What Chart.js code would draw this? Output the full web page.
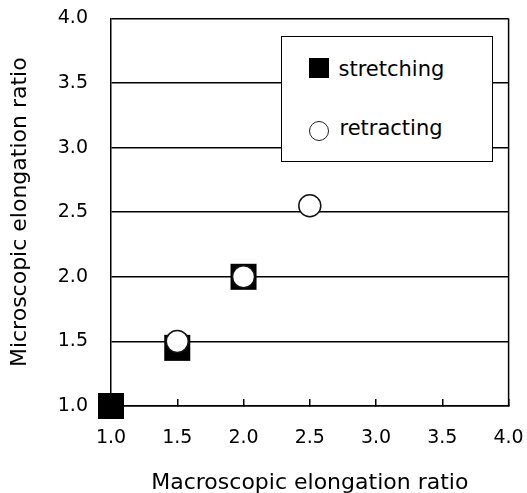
<!DOCTYPE html>
<html>
<head>
<meta charset="utf-8">
<script src="https://cdn.jsdelivr.net/npm/chart.js@4.4.1/dist/chart.umd.min.js"></script>
<style>
  html, body { margin: 0; padding: 0; background: #fff; }
  #wrap { position: relative; width: 527px; height: 493px; }
  #wrap canvas { position: absolute; left: 0; top: 0; }
  #legend {
    position: absolute; left: 281px; top: 36px; width: 212px; height: 126px;
    box-sizing: border-box; border: 1.5px solid #000; background: #fff;
    font-family: "DejaVu Sans", sans-serif; font-size: 21px; line-height: 24px; color: #000;
  }
  #legend .mark { position: absolute; box-sizing: border-box; width: 20px; height: 20px; }
  #legend .txt { position: absolute; white-space: nowrap; }
</style>
</head>
<body>
<div id="wrap">
  <canvas id="chart" width="527" height="493"></canvas>
  <div id="legend"></div>
</div>
<script>
const stretchingX = [1.0, 1.5, 2.0];
const stretchingY = [1.0, 1.45, 2.0];
const retractingX = [1.5, 2.0, 2.5];
const retractingY = [1.5, 2.0, 2.55];
const axisTicks = [1.0, 1.5, 2.0, 2.5, 3.0, 3.5, 4.0];

const FONT = '"DejaVu Sans", sans-serif';

const pairs = (xs, ys) => xs.map((x, i) => ({ x: x, y: ys[i] }));
const fixTicks = (scale) => { scale.ticks = axisTicks.map((v) => ({ value: v })); };

// right-hand frame line of the plot box
const frame = {
  id: "frame",
  beforeDatasetsDraw(chart) {
    const a = chart.chartArea;
    const ctx = chart.ctx;
    ctx.save();
    ctx.strokeStyle = "#000";
    ctx.lineWidth = 1.5;
    ctx.beginPath();
    ctx.moveTo(a.right, a.top);
    ctx.lineTo(a.right, a.bottom);
    ctx.stroke();
    ctx.restore();
  },
};

const chart = new Chart(document.getElementById("chart"), {
  type: "scatter",
  data: {
    datasets: [
      {
        label: "stretching",
        data: pairs(stretchingX, stretchingY),
        pointStyle: "rect",
        pointRadius: 18.4,
        pointHoverRadius: 18.4,
        backgroundColor: "#000",
        borderColor: "#000",
        borderWidth: 0,
        clip: false,
        order: 1,
      },
      {
        label: "retracting",
        data: pairs(retractingX, retractingY),
        pointStyle: "circle",
        pointRadius: 11,
        pointHoverRadius: 11,
        backgroundColor: "#fff",
        borderColor: "#111",
        borderWidth: 1.5,
        clip: false,
        order: 0,
      },
    ],
  },
  options: {
    responsive: false,
    animation: false,
    events: [],
    layout: { padding: { top: 14, right: 15, left: 0, bottom: 0 } },
    plugins: { legend: { display: false }, tooltip: { enabled: false } },
    scales: {
      x: {
        type: "linear",
        min: 1,
        max: 4,
        afterBuildTicks: fixTicks,
        afterFit: (s) => { s.height = 87; s.paddingLeft = 0; s.paddingRight = 0; },
        grid: { drawOnChartArea: false, drawTicks: true, tickLength: -7, color: "#000", lineWidth: 1.5 },
        border: { display: true, color: "#000", width: 1.5 },
        ticks: {
          autoSkip: false,
          maxRotation: 0,
          padding: 28,
          color: "#000",
          font: { family: FONT, size: 19 },
          callback: (v) => Number(v).toFixed(1),
        },
        title: {
          display: true,
          text: "Macroscopic elongation ratio",
          color: "#000",
          font: { family: FONT, size: 22, lineHeight: 0.9 },
          padding: { top: 0, bottom: 0 },
        },
      },
      y: {
        type: "linear",
        min: 1,
        max: 4,
        afterBuildTicks: fixTicks,
        afterFit: (s) => { s.width = 111; s.paddingTop = 0; s.paddingBottom = 0; },
        grid: { drawTicks: false, color: "#000", lineWidth: 1.5 },
        border: { display: true, color: "#000", width: 1.5 },
        ticks: {
          autoSkip: false,
          padding: 23,
          color: "#000",
          font: { family: FONT, size: 19 },
          callback: (v) => Number(v).toFixed(1),
        },
        title: {
          display: true,
          text: "Microscopic elongation ratio",
          color: "#000",
          font: { family: FONT, size: 22, lineHeight: 0.9 },
          padding: { top: 10, bottom: 0 },
        },
      },
    },
  },
  plugins: [frame],
});

// legend box drawn over the plot, built from the dataset labels
const legendEl = document.getElementById("legend");
const legendRows = [
  { mark: "left:26.5px;top:20.5px;background:#000;", text: "left:56.5px;top:19.9px;" },
  { mark: "left:27px;top:84.2px;background:#fff;border:1.5px solid #222;border-radius:50%;", text: "left:57.5px;top:79.2px;" },
];
chart.data.datasets.forEach((ds, i) => {
  const m = document.createElement("div");
  m.className = "mark";
  m.style.cssText = legendRows[i].mark;
  const t = document.createElement("div");
  t.className = "txt";
  t.style.cssText = legendRows[i].text;
  t.textContent = ds.label;
  legendEl.appendChild(m);
  legendEl.appendChild(t);
});
</script>
</body>
</html>
